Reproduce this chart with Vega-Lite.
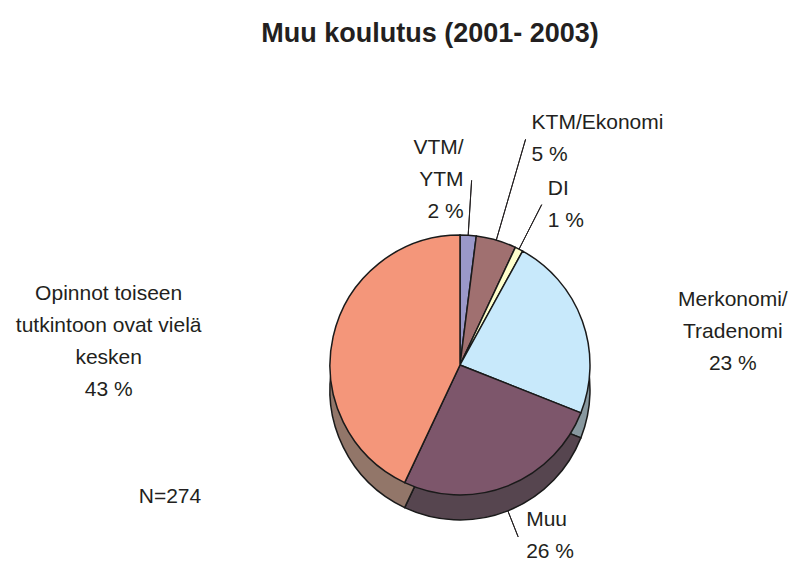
{
  "$schema": "https://vega.github.io/schema/vega-lite/v6.json",
  "width": 698,
  "height": 402,
  "autosize": {"type": "none"},
  "padding": {"left": 111, "top": 164, "right": 0, "bottom": 0},
  "background": "white",
  "config": {"view": {"stroke": null}, "font": "Liberation Sans"},
  "title": {
    "text": "Muu koulutus (2001- 2003)",
    "fontSize": 27,
    "fontWeight": "bold",
    "font": "Liberation Sans",
    "color": "#231f20",
    "anchor": "middle",
    "frame": "group",
    "offset": 43,
    "baseline": "alphabetic",
    "dx": -30
  },
  "data": {
    "values": [
      {"category": "VTM/YTM", "value": 2, "order": 1, "label": ["VTM/", "YTM", "2 %"]},
      {"category": "KTM/Ekonomi", "value": 5, "order": 2, "label": ["KTM/Ekonomi", "5 %"]},
      {"category": "DI", "value": 1, "order": 3, "label": ["DI", "1 %"]},
      {"category": "Merkonomi/Tradenomi", "value": 23, "order": 4, "label": ["Merkonomi/", "Tradenomi", "23 %"]},
      {"category": "Muu", "value": 26, "order": 5, "label": ["Muu", "26 %"]},
      {"category": "Opinnot toiseen tutkintoon ovat vielä kesken", "value": 43, "order": 6, "label": ["Opinnot toiseen", "tutkintoon ovat vielä", "kesken", "43 %"]}
    ]
  },
  "transform": [
    {"stack": "value", "groupby": [], "sort": [{"field": "order", "order": "ascending"}], "as": ["start", "end"]},
    {"calculate": "(datum.start + datum.end) / 2", "as": "mid"}
  ],
  "layer": [
    {
      "mark": {"type": "arc", "outerRadius": 130, "yOffset": 25, "stroke": "#1a1a1a", "strokeWidth": 1.5},
      "encoding": {
        "theta": {"field": "start", "type": "quantitative", "scale": {"domain": [0, 100]}, "stack": null},
        "theta2": {"field": "end"},
        "color": {
          "field": "category", "type": "nominal", "legend": null,
          "scale": {
            "domain": ["VTM/YTM", "KTM/Ekonomi", "DI", "Merkonomi/Tradenomi", "Muu", "Opinnot toiseen tutkintoon ovat vielä kesken"],
            "range": ["#5f5e80", "#644646", "#9f9f80", "#88989f", "#56454f", "#927669"]
          }
        }
      }
    },
    {
      "mark": {"type": "arc", "outerRadius": 130, "stroke": "#1a1a1a", "strokeWidth": 1.5},
      "encoding": {
        "theta": {"field": "start", "type": "quantitative", "scale": {"domain": [0, 100]}, "stack": null},
        "theta2": {"field": "end"},
        "color": {
          "field": "category", "type": "nominal", "legend": null,
          "scale": {
            "domain": ["VTM/YTM", "KTM/Ekonomi", "DI", "Merkonomi/Tradenomi", "Muu", "Opinnot toiseen tutkintoon ovat vielä kesken"],
            "range": ["#9a98c9", "#a07070", "#ffffcc", "#c8e9fb", "#7d566b", "#f4967a"]
          }
        }
      }
    },
    {
      "transform": [{"filter": "datum.order == 1"}],
      "mark": {"type": "arc", "innerRadius": 130, "outerRadius": 185, "filled": false, "stroke": "#231f20", "strokeWidth": 1},
      "encoding": {
        "theta": {"field": "mid", "type": "quantitative", "scale": {"domain": [0, 100]}, "stack": null},
        "theta2": {"field": "mid"}
      }
    },
    {
      "transform": [{"filter": "datum.order == 2"}],
      "mark": {"type": "arc", "innerRadius": 130, "outerRadius": 235, "filled": false, "stroke": "#231f20", "strokeWidth": 1},
      "encoding": {
        "theta": {"field": "mid", "type": "quantitative", "scale": {"domain": [0, 100]}, "stack": null},
        "theta2": {"field": "mid"}
      }
    },
    {
      "transform": [{"filter": "datum.order == 3"}],
      "mark": {"type": "arc", "innerRadius": 130, "outerRadius": 180, "filled": false, "stroke": "#231f20", "strokeWidth": 1},
      "encoding": {
        "theta": {"field": "mid", "type": "quantitative", "scale": {"domain": [0, 100]}, "stack": null},
        "theta2": {"field": "mid"}
      }
    },
    {
      "transform": [{"filter": "datum.order == 5"}],
      "mark": {"type": "arc", "innerRadius": 130, "outerRadius": 158, "yOffset": 25, "filled": false, "stroke": "#231f20", "strokeWidth": 1},
      "encoding": {
        "theta": {"field": "mid", "type": "quantitative", "scale": {"domain": [0, 100]}, "stack": null},
        "theta2": {"field": "mid"}
      }
    },
    {
      "transform": [{"filter": "datum.order == 1"}],
      "mark": {"type": "text", "radius": 185, "align": "right", "dx": -8, "dy": -32, "baseline": "middle", "fontSize": 21, "lineHeight": 32, "color": "#231f20"},
      "encoding": {
        "theta": {"field": "mid", "type": "quantitative", "scale": {"domain": [0, 100]}, "stack": null},
        "text": {"field": "label"}
      }
    },
    {
      "transform": [{"filter": "datum.order == 2"}],
      "mark": {"type": "text", "radius": 235, "align": "left", "dx": 6, "dy": -16, "baseline": "middle", "fontSize": 21, "lineHeight": 32, "color": "#231f20"},
      "encoding": {
        "theta": {"field": "mid", "type": "quantitative", "scale": {"domain": [0, 100]}, "stack": null},
        "text": {"field": "label"}
      }
    },
    {
      "transform": [{"filter": "datum.order == 3"}],
      "mark": {"type": "text", "radius": 180, "align": "left", "dx": 6, "dy": -16, "baseline": "middle", "fontSize": 21, "lineHeight": 32, "color": "#231f20"},
      "encoding": {
        "theta": {"field": "mid", "type": "quantitative", "scale": {"domain": [0, 100]}, "stack": null},
        "text": {"field": "label"}
      }
    },
    {
      "transform": [{"filter": "datum.order == 4"}],
      "mark": {"type": "text", "radius": 290, "align": "center", "dy": 33, "baseline": "middle", "fontSize": 21, "lineHeight": 32, "color": "#231f20"},
      "encoding": {
        "theta": {"field": "mid", "type": "quantitative", "scale": {"domain": [0, 100]}, "stack": null},
        "text": {"field": "label"}
      }
    },
    {
      "transform": [{"filter": "datum.order == 5"}],
      "mark": {"type": "text", "radius": 158, "align": "left", "dx": 8, "dy": 8, "baseline": "middle", "fontSize": 21, "lineHeight": 32, "color": "#231f20"},
      "encoding": {
        "theta": {"field": "mid", "type": "quantitative", "scale": {"domain": [0, 100]}, "stack": null},
        "text": {"field": "label"}
      }
    },
    {
      "transform": [{"filter": "datum.order == 6"}],
      "mark": {"type": "text", "radius": 360, "align": "center", "dy": 8, "baseline": "middle", "fontSize": 21, "lineHeight": 32, "color": "#231f20"},
      "encoding": {
        "theta": {"field": "mid", "type": "quantitative", "scale": {"domain": [0, 100]}, "stack": null},
        "text": {"field": "label"}
      }
    },
    {
      "transform": [{"filter": "datum.order == 6"}],
      "mark": {"type": "text", "align": "center", "dx": -290, "dy": 132, "baseline": "middle", "fontSize": 21, "color": "#231f20"},
      "encoding": {
        "text": {"value": "N=274"}
      }
    }
  ],
  "resolve": {"scale": {"color": "independent"}}
}
